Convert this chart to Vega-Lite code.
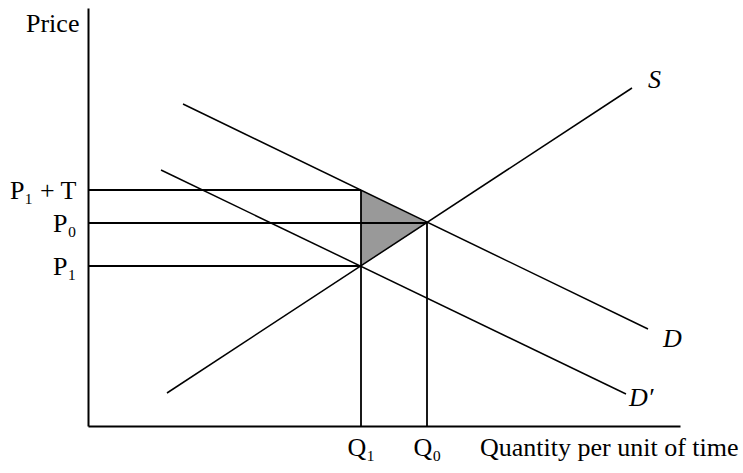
{
  "$schema": "https://vega.github.io/schema/vega-lite/v6.json",
  "autosize": "none",
  "width": 592,
  "height": 418,
  "padding": {"left": 88, "top": 8, "right": 63, "bottom": 47},
  "background": "white",
  "config": {"view": {"stroke": null}, "font": "Liberation Serif"},
  "datasets": {
    "curves": [
      {"curve": "S", "x": 79, "y": 33},
      {"curve": "S", "x": 544, "y": 338},
      {"curve": "D", "x": 95, "y": 322},
      {"curve": "D", "x": 560, "y": 97},
      {"curve": "D′", "x": 73, "y": 256},
      {"curve": "D′", "x": 538, "y": 32}
    ],
    "guides": [
      {"name": "P1+T", "x": 0, "y": 236, "x2": 273, "y2": 236},
      {"name": "P0", "x": 0, "y": 203, "x2": 339, "y2": 203},
      {"name": "P1", "x": 0, "y": 160, "x2": 273, "y2": 160},
      {"name": "Q1", "x": 273, "y": 0, "x2": 273, "y2": 236},
      {"name": "Q0", "x": 339, "y": 0, "x2": 339, "y2": 203}
    ],
    "wedge": [
      {"x": 273, "y": 236, "y2": 160},
      {"x": 339, "y": 203, "y2": 203}
    ],
    "curveLabels": [
      {"label": "S", "x": 560, "y": 338},
      {"label": "D", "x": 575, "y": 79},
      {"label": "D′", "x": 541, "y": 20}
    ],
    "axisLabels": [
      {"label": "Price", "x": -62, "y": 394},
      {"label": "Quantity per unit of time", "x": 392, "y": -30}
    ]
  },
  "encoding": {
    "x": {
      "field": "x", "type": "quantitative",
      "scale": {"domain": [0, 592], "nice": false, "zero": false},
      "axis": {
        "title": null, "grid": false, "ticks": false,
        "domainColor": "black", "domainWidth": 2,
        "values": [273, 339],
        "labelExpr": "datum.value == 273 ? 'Q₁' : 'Q₀'",
        "labelFont": "Liberation Serif", "labelFontSize": 26, "labelColor": "black",
        "labelBaseline": "alphabetic", "labelPadding": 29
      }
    },
    "y": {
      "field": "y", "type": "quantitative",
      "scale": {"domain": [0, 418], "nice": false, "zero": false},
      "axis": {
        "title": null, "grid": false, "ticks": false,
        "domainColor": "black", "domainWidth": 2,
        "values": [236, 203, 160],
        "labelExpr": "datum.value == 236 ? 'P₁ + T' : (datum.value == 203 ? 'P₀' : 'P₁')",
        "labelFont": "Liberation Serif", "labelFontSize": 26, "labelColor": "black",
        "labelPadding": 12
      }
    }
  },
  "layer": [
    {
      "data": {"name": "wedge"},
      "mark": {"type": "area", "color": "#999999", "opacity": 1},
      "encoding": {"y2": {"field": "y2"}}
    },
    {
      "data": {"name": "guides"},
      "mark": {"type": "rule", "color": "black", "strokeWidth": 1.8},
      "encoding": {"x2": {"field": "x2"}, "y2": {"field": "y2"}}
    },
    {
      "data": {"name": "curves"},
      "mark": {"type": "line", "color": "black", "strokeWidth": 1.5},
      "encoding": {"detail": {"field": "curve"}}
    },
    {
      "data": {"name": "curveLabels"},
      "mark": {"type": "text", "font": "Liberation Serif", "fontStyle": "italic", "fontSize": 26, "align": "left", "baseline": "alphabetic", "color": "black", "clip": false},
      "encoding": {"text": {"field": "label"}}
    },
    {
      "data": {"name": "axisLabels"},
      "mark": {"type": "text", "font": "Liberation Serif", "fontSize": 26, "align": "left", "baseline": "alphabetic", "color": "black", "clip": false},
      "encoding": {"text": {"field": "label"}}
    }
  ]
}
